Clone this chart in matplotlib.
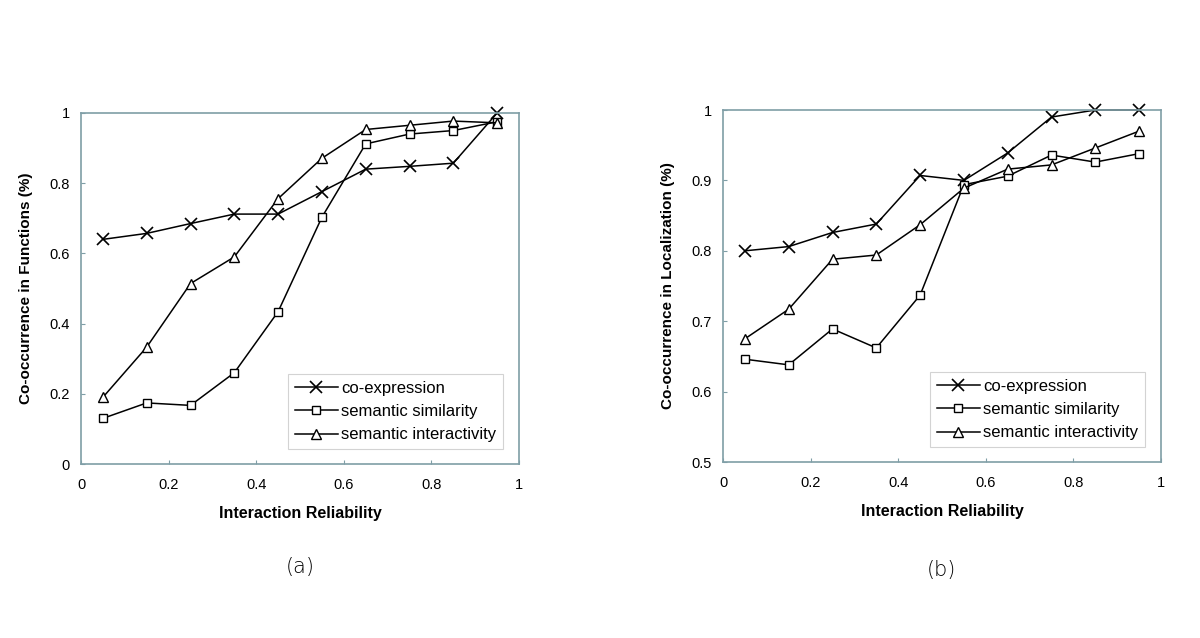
import matplotlib
matplotlib.use("Agg")
import matplotlib.pyplot as plt

plt.rcParams['font.family'] = ['Liberation Sans', 'DejaVu Sans']

reliability = [0.05, 0.15, 0.25, 0.35, 0.45, 0.55, 0.65, 0.75, 0.85, 0.95]
series_names = ["co-expression", "semantic similarity", "semantic interactivity"]

# (a) co-occurrence in functions
func_coexp = [0.64, 0.657, 0.685, 0.712, 0.712, 0.776, 0.84, 0.848, 0.857, 1.0]
func_simil = [0.13, 0.174, 0.167, 0.26, 0.434, 0.703, 0.912, 0.94, 0.95, 0.975]
func_inter = [0.19, 0.333, 0.514, 0.59, 0.756, 0.871, 0.953, 0.965, 0.977, 0.972]

# (b) co-occurrence in localization
loc_coexp = [0.80, 0.806, 0.826, 0.838, 0.907, 0.900, 0.939, 0.990, 1.0, 1.0]
loc_simil = [0.646, 0.638, 0.689, 0.662, 0.737, 0.894, 0.906, 0.936, 0.926, 0.938]
loc_inter = [0.675, 0.717, 0.788, 0.794, 0.837, 0.889, 0.916, 0.922, 0.946, 0.970]

x_ticks = [0, 0.2, 0.4, 0.6, 0.8, 1]
x_ticklabels = ["0", "0.2", "0.4", "0.6", "0.8", "1"]
func_yticks = [0, 0.2, 0.4, 0.6, 0.8, 1]
func_yticklabels = ["0", "0.2", "0.4", "0.6", "0.8", "1"]
loc_yticks = [0.5, 0.6, 0.7, 0.8, 0.9, 1]
loc_yticklabels = ["0.5", "0.6", "0.7", "0.8", "0.9", "1"]

fig = plt.figure(figsize=(12, 6.38), dpi=100)
W, H = 1200, 638
frame_col = "#7f9ea6"


def make_panel(rect, series, yticks, yticklabels, ylim, ylabel, tag, tag_pos, legend_rect):
    l, t, r, b = rect
    ax = fig.add_axes([l / W, 1 - b / H, (r - l) / W, (b - t) / H])
    markers = [dict(marker="x", ms=8, mew=1.2),
               dict(marker="s", ms=5.5, mfc="white", mew=1.0),
               dict(marker="^", ms=6.5, mfc="white", mew=1.0)]
    for vals, name, mk in zip(series, series_names, markers):
        ax.plot(reliability, vals, color="black", lw=1.1, label=name, clip_on=False, **mk)
    ax.set_xlim(0, 1)
    ax.set_ylim(*ylim)
    ax.set_xticks(x_ticks)
    ax.set_xticklabels(x_ticklabels)
    ax.set_yticks(yticks)
    ax.set_yticklabels(yticklabels)
    ax.tick_params(axis="both", labelsize=10.5, length=3, color=frame_col, direction="in")
    ax.tick_params(axis="x", pad=10)
    ax.tick_params(axis="y", pad=8)
    for s in ax.spines.values():
        s.set_color(frame_col)
        s.set_linewidth(1.2)
    ax.set_xlabel("Interaction Reliability", fontsize=11.5, fontweight="bold", labelpad=10)
    ax.set_ylabel(ylabel, fontsize=11, fontweight="bold", labelpad=12)
    lx0, ly0, lx1, ly1 = legend_rect
    leg = ax.legend(loc="upper left",
                    bbox_to_anchor=((lx0 - l) / (r - l), (b - ly0) / (b - t)),
                    fontsize=12, frameon=True, fancybox=False, edgecolor="#c8c8c8",
                    handlelength=2.6, handletextpad=0.2, borderpad=0.4,
                    labelspacing=0.5, borderaxespad=0)
    leg.get_frame().set_linewidth(0.8)
    fig.text(tag_pos[0] / W, 1 - tag_pos[1] / H, tag, fontsize=15,
             ha="center", va="center", family=["DejaVu Sans"], fontweight="light")
    return ax


make_panel((81, 113, 519, 464), [func_coexp, func_simil, func_inter],
           func_yticks, func_yticklabels, (0, 1), "Co-occurrence in Functions (%)",
           "(a)", (300, 567), (288, 374, 503, 445))
make_panel((723, 110, 1161, 462), [loc_coexp, loc_simil, loc_inter],
           loc_yticks, loc_yticklabels, (0.5, 1), "Co-occurrence in Localization (%)",
           "(b)", (941, 570), (930, 372, 1146, 444))

fig.savefig("out.png", dpi=100)
